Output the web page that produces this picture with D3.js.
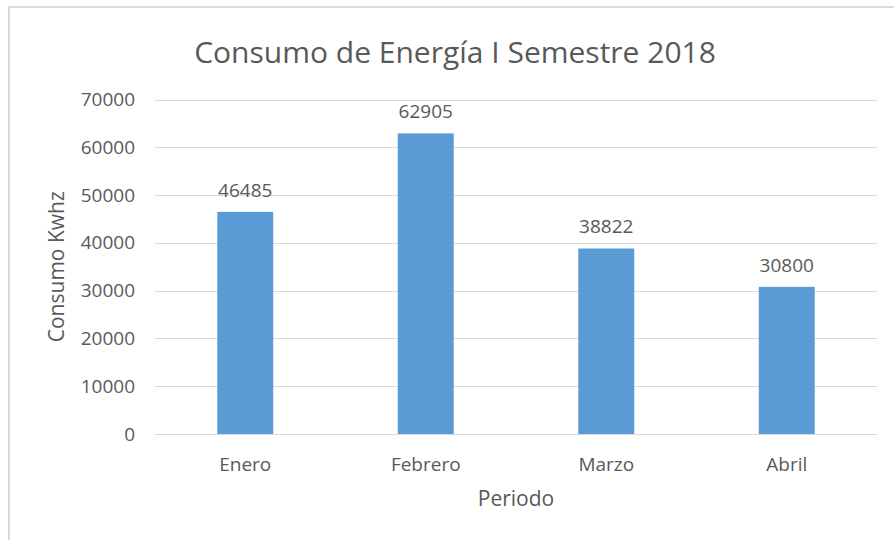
<!DOCTYPE html>
<html>
<head>
<meta charset="utf-8">
<script src="https://cdn.jsdelivr.net/npm/d3@7"></script>
<style>
  html, body { margin: 0; padding: 0; background: #fff; }
  svg { display: block; }
  text { font-family: "Open Sans", "Noto Sans", sans-serif; fill: #595959; }
</style>
</head>
<body>
<svg id="chart" width="894" height="540"></svg>
<script>
// Monthly energy consumption, first half of 2018
const months = ["Enero", "Febrero", "Marzo", "Abril"];
const consumption = [46485, 62905, 38822, 30800];
const yTicks = [0, 10000, 20000, 30000, 40000, 50000, 60000, 70000];

const titleText = "Consumo de Energía I Semestre 2018";
const xTitle = "Periodo";
const yTitle = "Consumo Kwhz";

const svg = d3.select("#chart");
const plot = { left: 155, right: 877, top: 99.5, bottom: 434 };

// Chart frame (left and top edges visible)
svg.append("path")
  .attr("d", "M9,540 L9,7 L894,7")
  .attr("fill", "none")
  .attr("stroke", "#d9d9d9")
  .attr("stroke-width", 2);

const x = d3.scaleBand()
  .domain(months)
  .range([plot.left, plot.right])
  .paddingInner(0.69)
  .paddingOuter(0.345);

const y = d3.scaleLinear()
  .domain([0, 70000])
  .range([plot.bottom, plot.top]);

// Horizontal gridlines
svg.append("g")
  .selectAll("line")
  .data(yTicks)
  .join("line")
  .attr("x1", plot.left)
  .attr("x2", plot.right)
  .attr("y1", d => Math.round(y(d)) + 0.5)
  .attr("y2", d => Math.round(y(d)) + 0.5)
  .attr("stroke", "#d9d9d9")
  .attr("stroke-width", 1);

// Y axis tick labels
const yAxis = d3.axisLeft(y).tickValues(yTicks).tickSize(0).tickPadding(0).tickFormat(d3.format("d"));
const yg = svg.append("g")
  .attr("transform", `translate(${plot.left - 20},0)`)
  .call(yAxis);
yg.select(".domain").remove();
yg.selectAll("text")
  .attr("font-size", 19)
  .attr("fill", "#595959")
  .style("font-family", "'Open Sans', sans-serif");

// Bars
svg.append("g")
  .selectAll("rect")
  .data(months)
  .join("rect")
  .attr("x", d => x(d))
  .attr("width", x.bandwidth())
  .attr("y", (d, i) => y(consumption[i]))
  .attr("height", (d, i) => y(0) - y(consumption[i]))
  .attr("fill", "#5b9bd5");

// Value labels above bars
svg.append("g")
  .selectAll("text")
  .data(months)
  .join("text")
  .attr("x", d => x(d) + x.bandwidth() / 2)
  .attr("y", (d, i) => y(consumption[i]) - 15)
  .attr("text-anchor", "middle")
  .attr("font-size", 19)
  .text((d, i) => consumption[i]);

// X axis category labels
const xAxis = d3.axisBottom(x).tickSize(0).tickPadding(0);
const xg = svg.append("g")
  .attr("transform", `translate(0,${plot.bottom})`)
  .call(xAxis);
xg.select(".domain").remove();
xg.selectAll("text")
  .attr("dy", null)
  .attr("y", 37)
  .attr("font-size", 19)
  .attr("fill", "#595959")
  .style("font-family", "'Open Sans', sans-serif");

// Title
svg.append("text")
  .attr("x", 455)
  .attr("y", 63)
  .attr("text-anchor", "middle")
  .attr("font-size", 30)
  .text(titleText);

// Axis titles
svg.append("text")
  .attr("x", (plot.left + plot.right) / 2)
  .attr("y", 506)
  .attr("text-anchor", "middle")
  .attr("font-size", 21)
  .text(xTitle);

svg.append("text")
  .attr("transform", `translate(64,${(plot.top + plot.bottom) / 2}) rotate(-90)`)
  .attr("text-anchor", "middle")
  .attr("font-size", 21)
  .text(yTitle);
</script>
</body>
</html>
